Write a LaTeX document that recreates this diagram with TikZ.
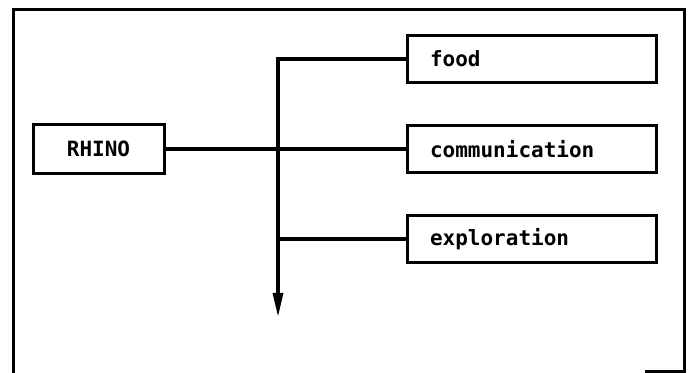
\documentclass[tikz,border=0pt]{standalone}
\usepackage{fontspec}
\newfontfamily\plotfont{DejaVu Sans Mono}
\usetikzlibrary{arrows.meta, positioning}

\begin{document}
\begin{tikzpicture}[
    x=0.5pt, y=0.5pt,
    every node/.style={font=\plotfont\fontsize{10.5}{12}\selectfont\bfseries},
    rootbox/.style={draw, line width=1.5pt, minimum width=65.5pt, minimum height=24.5pt, inner sep=0pt},
    topicbox/.style={draw, line width=1.5pt, minimum height=23.5pt, text width=101.5pt,
                     inner xsep=11.5pt, inner ysep=0pt, align=left},
    link/.style={line width=1.6pt},
    frame/.style={line width=1.5pt}
]
\useasboundingbox (0,0) rectangle (689,373);
\draw[frame] (13,0) -- (13,363) -- (684,363) -- (684,1) -- (645,1);
\node[rootbox]  (rhino) at (98.5,224) {RHINO};
\node[topicbox] (food)  at (531.5,314) {food};
\node[topicbox] (comm)  at (531.5,224) {communication};
\node[topicbox] (expl)  at (531.5,134) {exploration};
\coordinate (tip) at (278,56);
\draw[link, -{Triangle[length=12pt, width=5pt]}] (food.west) -| (tip);
\draw[link] (rhino) -- (comm);
\draw[link] (expl.west) -- (expl.west -| tip);
\end{tikzpicture}
\end{document}
